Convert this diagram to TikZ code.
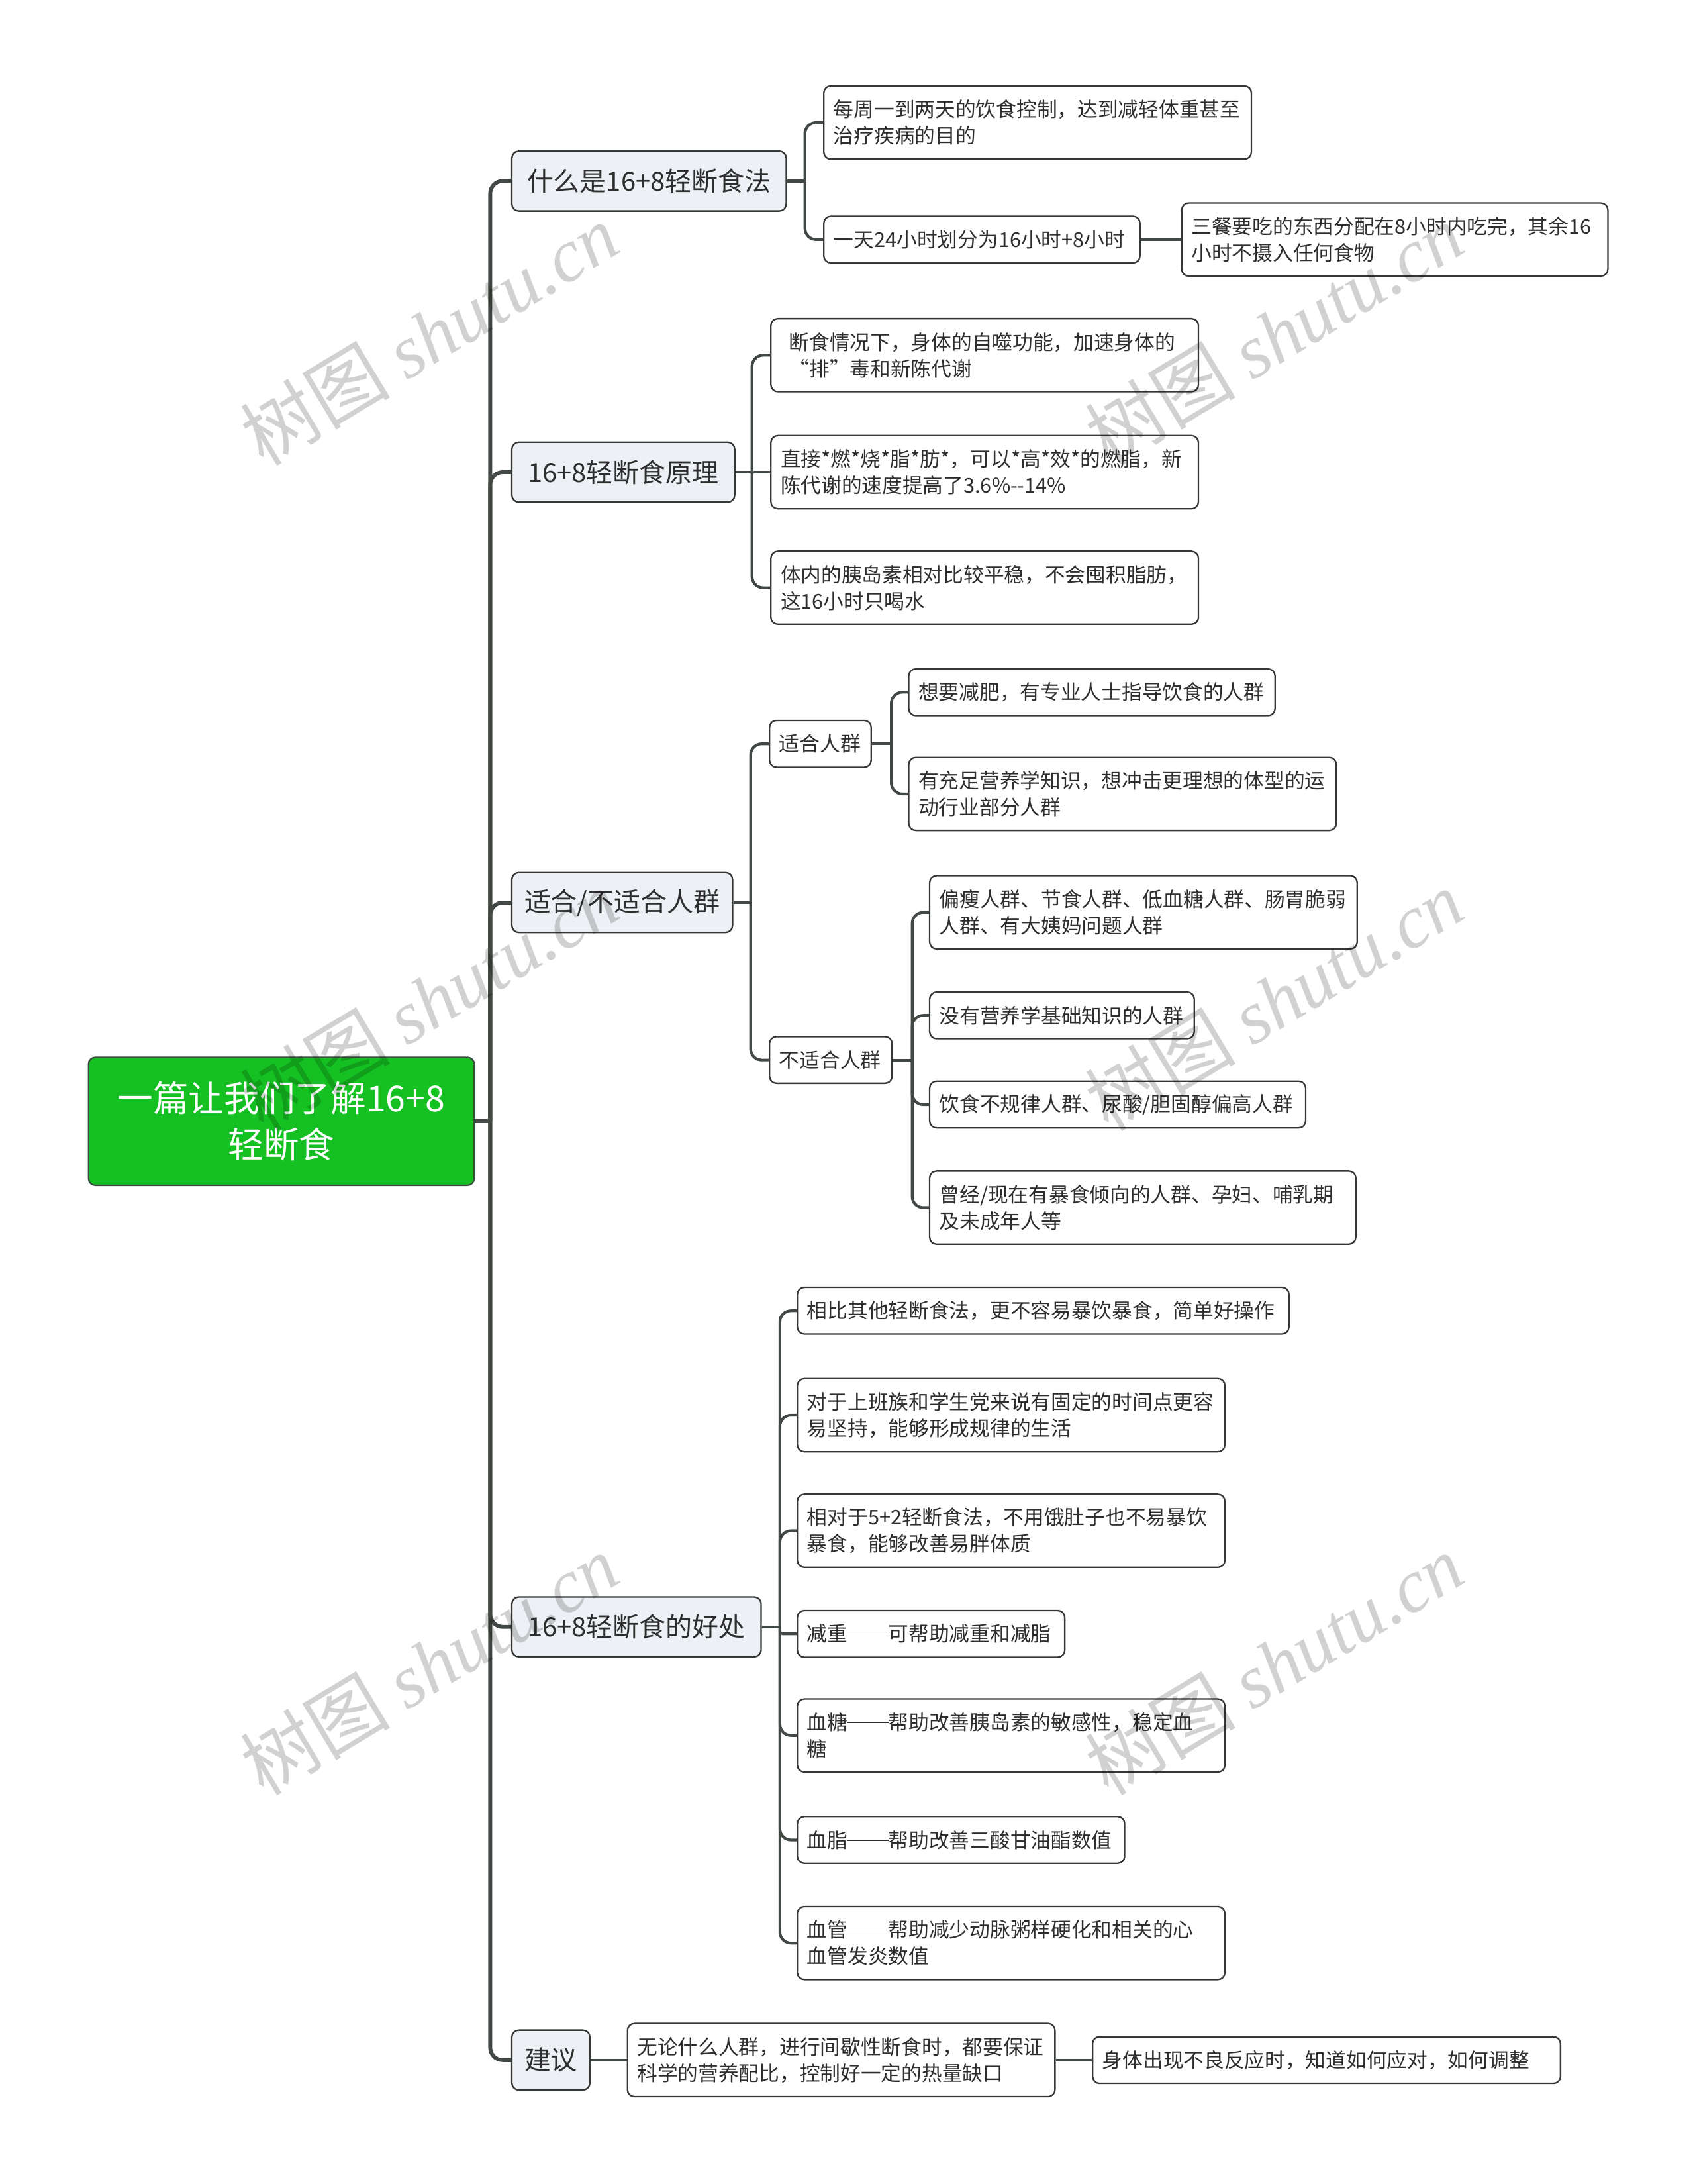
\documentclass[tikz,border=0pt]{standalone}
\usepackage{fontspec}
\setmainfont{Noto Sans CJK SC}
\newfontfamily\wmlatin{Liberation Serif}
\newfontfamily\wmcjk{Noto Sans CJK SC}
\newcommand\cjkdash{\rule[0.34em]{2em}{0.055em}}
\definecolor{rootfill}{HTML}{15C122}
\definecolor{rootedge}{HTML}{35503A}
\definecolor{brfill}{HTML}{EDF0F4}
\definecolor{boxedge}{HTML}{363838}
\definecolor{linecol}{HTML}{424843}
\definecolor{txt}{HTML}{2E2E2E}
\tikzset{
  box/.style={draw=boxedge, line width=1.1pt, rounded corners=5pt, anchor=west,
    inner xsep=8pt, inner ysep=0pt, text=txt, align=left},
  rootbox/.style={box, fill=rootfill, draw=rootedge, text=white, align=center,
    font=\fontsize{25.5}{33}\selectfont, minimum width=277pt, minimum height=92pt},
  branchbox/.style={box, fill=brfill, font=\fontsize{19}{23}\selectfont,
    minimum height=43pt, inner xsep=9pt},
  leafbox/.style={box, fill=white, font=\fontsize{14.6}{19}\selectfont, inner xsep=7pt},
  bw/.style={text width=#1pt-14pt},
  oneline/.style={minimum height=33.5pt},
  twoline/.style={minimum height=52.5pt},
  trunkline/.style={draw=linecol, line width=2.8pt, rounded corners=9pt},
  link/.style={draw=linecol, line width=2pt, rounded corners=8pt},
  wmark/.style={opacity=0.18, text=black, rotate=31, inner sep=0pt,
    font=\fontsize{54}{60}\selectfont}
}
\begin{document}
\begin{tikzpicture}[x=1pt,y=-1pt]
\useasboundingbox (0,0) rectangle (1217,1568);

% ---------- nodes ----------
\node[rootbox] (root) at (63,805) {一篇让我们了解16+8\\轻断食};

\node[branchbox, minimum width=197pt] (b1) at (367,130) {什么是16+8轻断食法};
\node[branchbox, minimum width=160pt] (b2) at (367,339) {16+8轻断食原理};
\node[branchbox, minimum width=158pt] (b3) at (367,648) {适合/不适合人群};
\node[branchbox, minimum width=179pt] (b4) at (367,1168) {16+8轻断食的好处};
\node[branchbox, minimum width=56pt]  (b5) at (367,1479) {建议};

% branch 1
\node[leafbox, twoline, bw=307] (c11) at (591,88) {每周一到两天的饮食控制，达到减轻体重甚至\\治疗疾病的目的};
\node[leafbox, oneline, bw=227] (c12) at (591,172) {一天24小时划分为16小时+8小时};
\node[leafbox, twoline, bw=306] (c121) at (848,172) {三餐要吃的东西分配在8小时内吃完，其余16\\小时不摄入任何食物};

% branch 2
\node[leafbox, twoline, inner xsep=13pt, text width=281pt] (c21) at (553,255) {断食情况下，身体的自噬功能，加速身体的\\“排”毒和新陈代谢};
\node[leafbox, twoline, bw=307] (c22) at (553,339) {直接*燃*烧*脂*肪*，可以*高*效*的燃脂，新\\陈代谢的速度提高了3.6\%-{}-14\%};
\node[leafbox, twoline, bw=307] (c23) at (553,422) {体内的胰岛素相对比较平稳，不会囤积脂肪，\\这16小时只喝水};

% branch 3
\node[leafbox, oneline, bw=73] (c31) at (552,534) {适合人群};
\node[leafbox, oneline, bw=263] (c311) at (652,497) {想要减肥，有专业人士指导饮食的人群};
\node[leafbox, twoline, bw=307] (c312) at (652,570) {有充足营养学知识，想冲击更理想的体型的运\\动行业部分人群};
\node[leafbox, oneline, bw=88] (c32) at (552,761) {不适合人群};
\node[leafbox, twoline, bw=307] (c321) at (667,655) {偏瘦人群、节食人群、低血糖人群、肠胃脆弱\\人群、有大姨妈问题人群};
\node[leafbox, oneline, bw=190] (c322) at (667,729) {没有营养学基础知识的人群};
\node[leafbox, oneline, bw=270] (c323) at (667,793) {饮食不规律人群、尿酸/胆固醇偏高人群};
\node[leafbox, twoline, bw=306] (c324) at (667,867) {曾经/现在有暴食倾向的人群、孕妇、哺乳期\\及未成年人等};

% branch 4
\node[leafbox, oneline, bw=353] (c41) at (572,941) {相比其他轻断食法，更不容易暴饮暴食，简单好操作};
\node[leafbox, twoline, bw=307] (c42) at (572,1016) {对于上班族和学生党来说有固定的时间点更容\\易坚持，能够形成规律的生活};
\node[leafbox, twoline, bw=307] (c43) at (572,1099) {相对于5+2轻断食法，不用饿肚子也不易暴饮\\暴食，能够改善易胖体质};
\node[leafbox, oneline, bw=192] (c44) at (572,1173) {减重\cjkdash 可帮助减重和减脂};
\node[leafbox, twoline, bw=307] (c45) at (572,1246) {血糖\cjkdash 帮助改善胰岛素的敏感性，稳定血\\糖};
\node[leafbox, oneline, bw=235] (c46) at (572,1321) {血脂\cjkdash 帮助改善三酸甘油酯数值};
\node[leafbox, twoline, bw=307] (c47) at (572,1395) {血管\cjkdash 帮助减少动脉粥样硬化和相关的心\\血管发炎数值};

% branch 5
\node[leafbox, twoline, bw=307] (c51) at (450,1479) {无论什么人群，进行间歇性断食时，都要保证\\科学的营养配比，控制好一定的热量缺口};
\node[leafbox, oneline, bw=336] (c511) at (784,1479) {身体出现不良反应时，知道如何应对，如何调整};

% ---------- junctions ----------
\coordinate (jr) at (352,805);
\coordinate (j1) at (578,130);
\coordinate (j2) at (540,339);
\coordinate (j3) at (539,648);
\coordinate (j31) at (640,534);
\coordinate (j32) at (655,761);
\coordinate (j4) at (560,1168);

% ---------- connectors ----------
\draw[trunkline] (root.east) -- (jr);
\foreach \b in {b1,b2,b3,b4,b5} \draw[trunkline] (jr) |- (\b.west);

\draw[link] (b1.east) -- (j1);
\draw[link] (j1) |- (c11.west);
\draw[link] (j1) |- (c12.west);
\draw[link] (c12.east) -- (c121.west);

\draw[link] (b2.east) -- (j2);
\draw[link] (j2) |- (c21.west);
\draw[link] (j2) -- (c22.west);
\draw[link] (j2) |- (c23.west);

\draw[link] (b3.east) -- (j3);
\draw[link] (j3) |- (c31.west);
\draw[link] (j3) |- (c32.west);
\draw[link] (c31.east) -- (j31);
\draw[link] (j31) |- (c311.west);
\draw[link] (j31) |- (c312.west);
\draw[link] (c32.east) -- (j32);
\foreach \c in {c321,c322,c323,c324} \draw[link] (j32) |- (\c.west);

\draw[link] (b4.east) -- (j4);
\foreach \c in {c41,c42,c43,c45,c46,c47} \draw[link] (j4) |- (\c.west);
\draw[link, rounded corners=2pt] (j4) |- (c44.west);

\draw[link] (b5.east) -- (c51.west);
\draw[link] (c51.east) -- (c511.west);

% ---------- watermarks ----------
\node[wmark] (w1) at (308,240) {\wmcjk 树图 \wmlatin\itshape shutu.cn};
\node[wmark] (w2) at (308,718) {\wmcjk 树图 \wmlatin\itshape shutu.cn};
\node[wmark] (w3) at (308,1195) {\wmcjk 树图 \wmlatin\itshape shutu.cn};
\node[wmark] (w4) at (915,240) {\wmcjk 树图 \wmlatin\itshape shutu.cn};
\node[wmark] (w5) at (915,718) {\wmcjk 树图 \wmlatin\itshape shutu.cn};
\node[wmark] (w6) at (915,1195) {\wmcjk 树图 \wmlatin\itshape shutu.cn};
\end{tikzpicture}
\end{document}
